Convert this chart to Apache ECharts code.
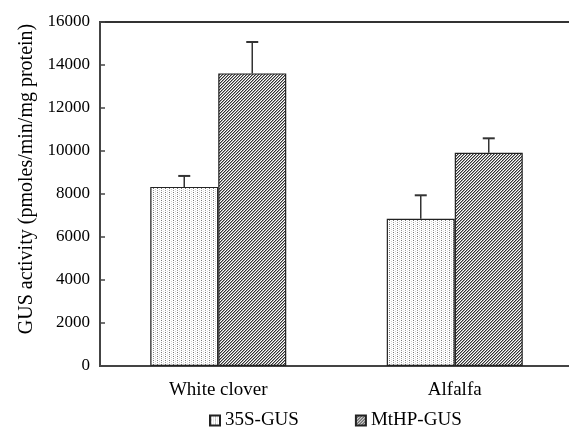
<!DOCTYPE html>
<html>
<head>
<meta charset="utf-8">
<script src="https://cdn.jsdelivr.net/npm/echarts@6/dist/echarts.min.js"></script>
<style>
html,body{margin:0;padding:0;background:#fff;}
#chart{width:569px;height:428px;}
</style>
</head>
<body>
<div id="chart"></div>
<script>
// ---- data ----
var categories = ['White clover', 'Alfalfa'];
var seriesNames = ['35S-GUS', 'MtHP-GUS'];
var values35S = [8330, 6850];
var valuesMtHP = [13610, 9920];
var err35S = [510, 1090];
var errMtHP = [1460, 670];
var yTicks = [0, 2000, 4000, 6000, 8000, 10000, 12000, 14000, 16000];

// ---- patterns ----
function makeDots() {
  var c = document.createElement('canvas');
  c.width = 4; c.height = 4;
  var g = c.getContext('2d');
  g.fillStyle = '#fff'; g.fillRect(0, 0, 4, 4);
  g.fillStyle = '#777'; g.fillRect(1, 0, 1, 1);
  g.fillStyle = '#9a9a9a'; g.fillRect(1, 2, 1, 1);
  g.fillStyle = '#d0d0d0'; g.fillRect(3, 1, 1, 1);
  g.fillStyle = '#d8d8d8'; g.fillRect(3, 3, 1, 1);
  return c;
}
function makeHatch() {
  var c = document.createElement('canvas');
  c.width = 3; c.height = 3;
  var g = c.getContext('2d');
  g.fillStyle = '#fff'; g.fillRect(0, 0, 3, 3);
  for (var i = 0; i < 3; i++) {
    g.fillStyle = '#333'; g.fillRect(2 - i, i, 1, 1);
    g.fillStyle = '#a0a0a0'; g.fillRect((3 - i) % 3, i, 1, 1);
  }
  return c;
}
var dotPat = {image: makeDots(), repeat: 'repeat'};
var hatchPat = {image: makeHatch(), repeat: 'repeat'};

var BAR_W = 68;
function errRender(offset) {
  return function (params, api) {
    var ci = api.value(0);
    var v = api.value(1);
    var e = api.value(2);
    var p0 = api.coord([ci, v]);
    var p1 = api.coord([ci, v + e]);
    var x = p0[0] + offset;
    return {
      type: 'group',
      children: [
        {type: 'line', shape: {x1: x, y1: p0[1], x2: x, y2: p1[1]}, style: {stroke: '#333', lineWidth: 1.5}},
        {type: 'line', shape: {x1: x - 6, y1: p1[1], x2: x + 6, y2: p1[1]}, style: {stroke: '#333', lineWidth: 2}}
      ]
    };
  };
}

var chart = echarts.init(document.getElementById('chart'), null, {renderer: 'canvas'});
var fontFam = '"Liberation Serif", "Times New Roman", serif';
chart.setOption({
  animation: false,
  textStyle: {fontFamily: fontFam},
  grid: {left: 100, width: 473, top: 22, bottom: 62, show: true, borderColor: '#333', borderWidth: 2,
         outerBoundsMode: 'none', containLabel: false},
  legend: {
    data: seriesNames,
    left: 204, top: 406,
    itemWidth: 10, itemHeight: 10, itemGap: 56,
    textStyle: {fontFamily: fontFam, fontSize: 19, color: '#000'},
    icon: 'rect'
  },
  xAxis: {
    type: 'category', data: categories,
    axisLine: {lineStyle: {color: '#444', width: 2}},
    axisTick: {inside: true, length: 5, lineStyle: {color: '#444', width: 1.5}},
    axisLabel: {fontFamily: fontFam, fontSize: 19, color: '#000', margin: 15}
  },
  yAxis: {
    type: 'value', min: yTicks[0], max: yTicks[yTicks.length - 1], interval: 2000,
    name: 'GUS activity (pmoles/min/mg protein)',
    nameLocation: 'middle', nameGap: 62,
    nameTextStyle: {fontFamily: fontFam, fontSize: 20, color: '#000', padding: [0, 0, 0, 30]},
    axisLine: {show: true, lineStyle: {color: '#444', width: 2}},
    axisTick: {show: true, inside: true, length: 5, lineStyle: {color: '#444', width: 1.5}},
    axisLabel: {fontFamily: fontFam, fontSize: 17, color: '#000', margin: 10,
      formatter: function (v) { return String(v); }},
    splitLine: {show: false}
  },
  series: [
    {name: seriesNames[0], type: 'bar', data: values35S, barWidth: BAR_W, barGap: '0%',
     itemStyle: {color: dotPat, borderColor: '#222', borderWidth: 1.2}},
    {name: seriesNames[1], type: 'bar', data: valuesMtHP, barWidth: BAR_W, barGap: '0%',
     itemStyle: {color: hatchPat, borderColor: '#222', borderWidth: 1.2}},
    {type: 'custom', renderItem: errRender(-BAR_W / 2), z: 5,
     data: values35S.map(function (v, i) { return [i, v, err35S[i]]; })},
    {type: 'custom', renderItem: errRender(BAR_W / 2), z: 5,
     data: valuesMtHP.map(function (v, i) { return [i, v, errMtHP[i]]; })}
  ]
});
</script>
</body>
</html>
